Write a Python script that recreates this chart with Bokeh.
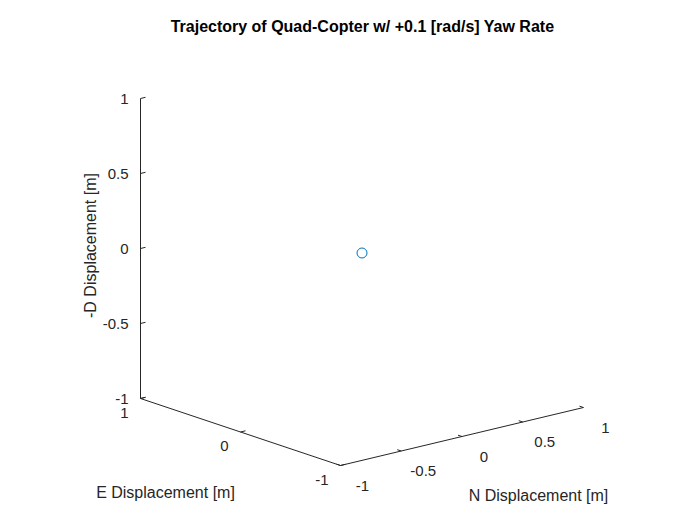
from bokeh.core.properties import value
from bokeh.embed import file_html
from bokeh.models import Range1d
from bokeh.plotting import figure
from bokeh.resources import INLINE

# data
point_n = [0.0]
point_e = [0.0]
point_z = [0.0]
n_ticks = [-1, -0.5, 0, 0.5, 1]
n_labels = ["-1", "-0.5", "0", "0.5", "1"]
e_ticks = [-1, 0, 1]
e_labels = ["-1", "0", "1"]
z_ticks = [-1, -0.5, 0, 0.5, 1]
z_labels = ["-1", "-0.5", "0", "0.5", "1"]

FONT = value("Liberation Sans")

# projection of (N, E, -D) in [-1, 1]^3 to page pixels
def proj(n, e, z):
    x = 340 + (n + 1) * 121.5 - (e + 1) * 100
    y = 465 - (n + 1) * 29 - (e + 1) * 33.5 - (z + 1) * 150
    return x, y


p = figure(width=684, height=509, output_backend="svg", toolbar_location=None,
           x_range=Range1d(0, 684), y_range=Range1d(509, 0), min_border=0)
p.axis.visible = False
p.grid.visible = False
p.outline_line_color = None

axis_col = "#262626"
# axes lines
for a, b in [((-1, 1, -1), (-1, 1, 1)), ((-1, 1, -1), (-1, -1, -1)), ((-1, -1, -1), (1, -1, -1))]:
    x0, y0 = proj(*a)
    x1, y1 = proj(*b)
    p.line([x0, x1], [y0, y1], line_color=axis_col, line_width=1)

def tick(pt, d):
    x0, y0 = proj(*pt)
    p.line([x0, x0 + d[0]], [y0, y0 + d[1]], line_color=axis_col, line_width=1)

# z ticks
for z, lab in zip(z_ticks, z_labels):
    tick((-1, 1, z), (5, -1.2))
    x, y = proj(-1, 1, z)
    p.text([x - 12], [y], text=[lab], text_align="right", text_baseline="middle",
           text_font=FONT, text_font_size="15px", text_color=axis_col)
# E ticks
for e, lab in zip(e_ticks, e_labels):
    tick((-1, e, -1), (5, -1.2))
    x, y = proj(-1, e, -1)
    p.text([x - 12], [y + 14], text=[lab], text_align="right", text_baseline="middle",
           text_font=FONT, text_font_size="15px", text_color=axis_col)
# N ticks
for n, lab in zip(n_ticks, n_labels):
    tick((n, -1, -1), (-4, -1.3))
    x, y = proj(n, -1, -1)
    p.text([x + 22], [y + 20], text=[lab], text_align="center", text_baseline="middle",
           text_font=FONT, text_font_size="15px", text_color=axis_col)

px, py = zip(*[proj(n, e, z) for n, e, z in zip(point_n, point_e, point_z)])
p.scatter(list(px), list(py), size=10, fill_color=None, line_color="#0072BD", line_width=1)

p.text([362], [26], text=["Trajectory of Quad-Copter w/ +0.1 [rad/s] Yaw Rate"], text_align="center",
       text_baseline="middle", text_font=FONT, text_font_size="16px", text_font_style="bold",
       text_color="black")
p.text([90], [245], text=["-D Displacement [m]"], angle=1.5708, text_align="center",
       text_baseline="middle", text_font=FONT, text_font_size="16px", text_color=axis_col)
p.text([165], [492], text=["E Displacement [m]"], text_align="center",
       text_baseline="middle", text_font=FONT, text_font_size="16px", text_color=axis_col)
p.text([538], [495], text=["N Displacement [m]"], text_align="center",
       text_baseline="middle", text_font=FONT, text_font_size="16px", text_color=axis_col)

open("out.html", "w").write(file_html(p, INLINE))
